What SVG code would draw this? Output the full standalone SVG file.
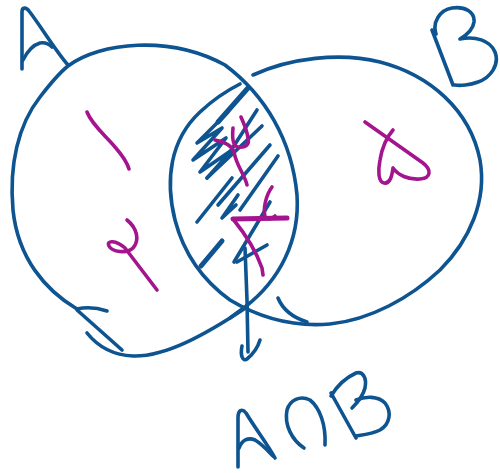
<svg xmlns="http://www.w3.org/2000/svg" width="500" height="473" viewBox="0 0 500 473">
<style>
.b{fill:none;stroke:#0d5490;stroke-width:3.6;stroke-linecap:round;stroke-linejoin:round}
.m{fill:none;stroke:#a3148e;stroke-width:3.6;stroke-linecap:round;stroke-linejoin:round}
.t{stroke-width:5}
</style>
<rect width="500" height="473" fill="#ffffff"/>
<g id="setA">
<path class="b" d="M107,311 C98,308 86,307 77,309 C45,290 18,258 13,210 C9,165 18,125 40,97 C50,84 58,74 68,66 C100,42 170,35 225,65 C265,95 292,140 297,195 C300,240 280,280 245,307 C238,312 234,315 230,318"/>
<path class="b" d="M87,333 C95,343 110,355 133,356 C165,357 205,335 247,307"/>
<path class="b" d="M77,310 L122,350"/>
<path class="b" d="M22,69 L22,12 C22,7 26,7 29,11 C40,25 55,50 68,65"/>
<path class="b" d="M23,60 C27,52 33,45 40,43 C45,42 49,44 52,47"/>
<path class="m" d="M87,112 C92,125 105,135 115,147 C122,155 127,162 129,169"/>
<path class="m" d="M127,220 C137,228 140,240 133,248 C127,254 112,252 109,246 C106,240 116,240 125,248 L157,290"/>
</g>
<g id="setB">
<path class="b" d="M253,75 C290,58 340,52 380,62 C430,75 470,110 480,160 C487,200 470,240 440,270 C410,298 370,320 330,324 C295,327 260,318 230,300 C205,282 185,258 175,220 C165,180 170,140 200,112 C215,98 228,90 240,84"/>
<path class="b" d="M278,298 Q285,315 307,322"/>
<path class="b" d="M432,30 L453,85"/>
<path class="b" d="M436,34 C432,22 440,10 452,8 C465,6 475,12 474,22 C473,30 465,36 460,39 C475,36 490,40 495,52 C500,65 490,78 478,82 C470,85 460,86 455,85"/>
<path class="m" d="M365,122 L423,163 C432,170 431,178 420,179 C408,180 398,175 393,168 C392,176 390,184 384,183 C378,182 378,170 380,160 C382,148 386,138 393,130"/>
</g>
<g id="intersection">
<path class="b t" d="M248,88 L218,122"/>
<path class="b" d="M228,112 L197,143 L222,128 L193,160 L226,138 L200,172 L232,150 L207,178"/>
<path class="b" d="M257,110 L228,155"/>
<path class="b" d="M262,126 L207,178"/>
<path class="b" d="M270,145 L218,205"/>
<path class="b" d="M278,156 L240,210"/>
<path class="b" d="M232,178 L197,222"/>
<path class="b" d="M238,195 L222,218 L236,205"/>
<path class="b" d="M270,202 L234,262"/>
<path class="b" d="M267,245 L237,262"/>
<path class="b t" d="M222,241 L201,266"/>
<path class="m" d="M233,128 C232,138 233,146 238,147 C245,148 250,145 248,138 C247,130 244,124 241,117"/>
<path class="m" d="M215,140 C225,142 232,146 234,152 C236,165 245,175 247,185"/>
<path class="m" d="M272,187 C266,195 263,208 265,217 C268,220 272,219 275,216"/>
<path class="m t" d="M233,219 L287,218"/>
<path class="m" d="M233,219 C242,230 255,248 262,268 L263,275"/>
</g>
<g id="connectors">
<path class="b" d="M245,248 L247,300 L248,352"/>
<path class="b" d="M242,346 C240,356 243,362 247,359 C252,355 257,350 260,340"/>
</g>
<g id="label">
<path class="b" d="M238,467 L238,418 C238,410 242,408 246,413 C255,428 268,445 275,458"/>
<path class="b" d="M239,448 C242,440 248,437 255,440 C262,444 268,451 273,456"/>
<path class="b" d="M304,448 C292,440 284,425 287,410 C290,400 300,395 310,400 C320,408 326,425 325,445"/>
<path class="b" d="M331,393 L356,438"/>
<path class="b" d="M331,396 C337,386 345,378 356,373 C363,371 367,378 365,388 C363,396 358,402 352,408"/>
<path class="b" d="M356,400 C366,396 378,396 385,403 C392,412 390,424 380,430 C372,434 362,435 356,436"/>
</g>
</svg>
